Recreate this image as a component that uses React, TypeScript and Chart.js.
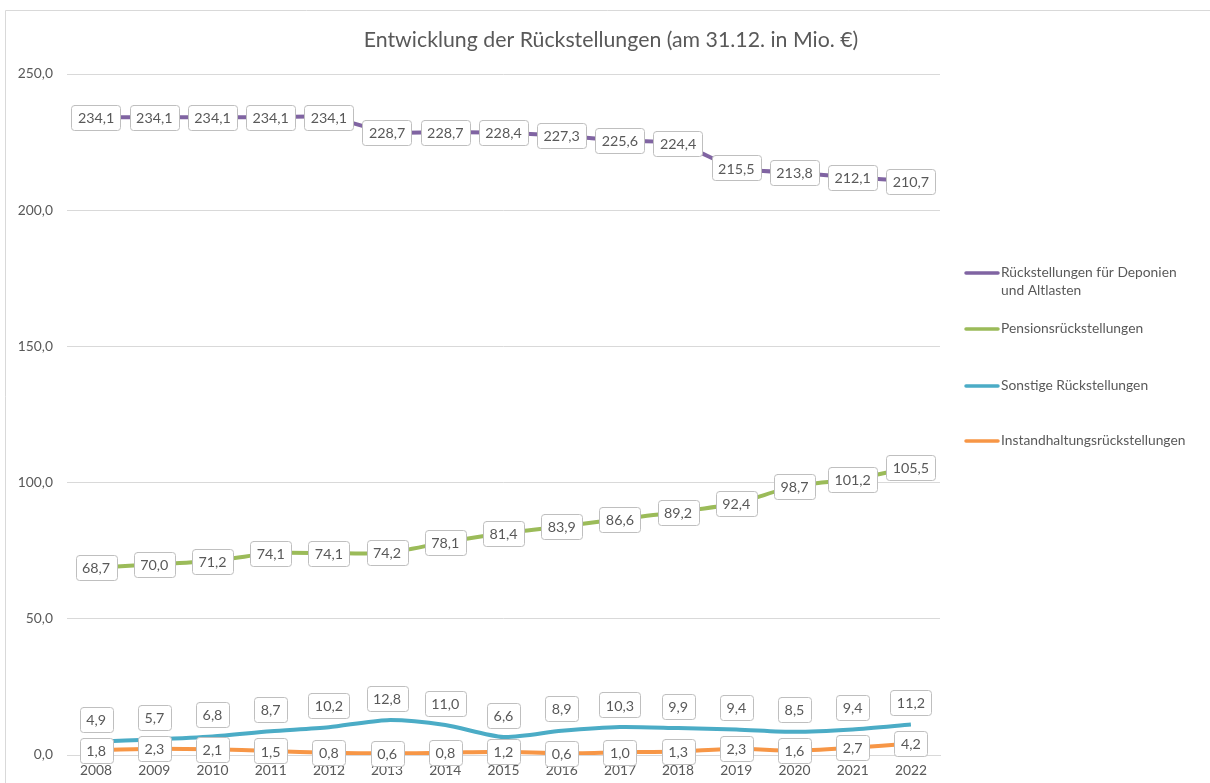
import React, { useEffect, useRef } from "react";
import { Chart, registerables } from "chart.js";

Chart.register(...registerables);

const years = ["2008", "2009", "2010", "2011", "2012", "2013", "2014", "2015", "2016", "2017", "2018", "2019", "2020", "2021", "2022"];
const deponien = [234.1, 234.1, 234.1, 234.1, 234.1, 228.7, 228.7, 228.4, 227.3, 225.6, 224.4, 215.5, 213.8, 212.1, 210.7];
const pensionen = [68.7, 70.0, 71.2, 74.1, 74.1, 74.2, 78.1, 81.4, 83.9, 86.6, 89.2, 92.4, 98.7, 101.2, 105.5];
const sonstige = [4.9, 5.7, 6.8, 8.7, 10.2, 12.8, 11.0, 6.6, 8.9, 10.3, 9.9, 9.4, 8.5, 9.4, 11.2];
const instand = [1.8, 2.3, 2.1, 1.5, 0.8, 0.6, 0.8, 1.2, 0.6, 1.0, 1.3, 2.3, 1.6, 2.7, 4.2];
const seriesNames = [["Rückstellungen für Deponien", "und Altlasten"], ["Pensionsrückstellungen"], ["Sonstige Rückstellungen"], ["Instandhaltungsrückstellungen"]];
const yTicks = [0, 50, 100, 150, 200, 250];
const title = "Entwicklung der Rückstellungen (am 31.12. in Mio. €)";

const FONT = "Lato, 'Open Sans', sans-serif";
const TEXT = "#595959";
const fmt = (v: number) => v.toFixed(1).replace(".", ",");

const decorPlugin = {
  id: "decor",
  beforeDraw(chart: any) {
    const ctx = chart.ctx;
    ctx.save();
    ctx.fillStyle = "#ffffff";
    ctx.fillRect(0, 0, chart.width, chart.height);
    ctx.strokeStyle = "#d9d9d9";
    ctx.lineWidth = 1;
    ctx.beginPath();
    ctx.moveTo(5.5, chart.height);
    ctx.lineTo(5.5, 10.5);
    ctx.lineTo(chart.width, 10.5);
    ctx.stroke();
    ctx.fillStyle = TEXT;
    ctx.font = `21.3px ${FONT}`;
    ctx.textAlign = "center";
    ctx.textBaseline = "middle";
    ctx.fillText(title, 611, 40);
    ctx.restore();
  },
  afterDraw(chart: any) {
    const ctx = chart.ctx;
    ctx.save();
    // legend
    const legendY = [273, 329, 386, 441];
    ctx.font = `13.8px ${FONT}`;
    ctx.textBaseline = "middle";
    ctx.textAlign = "left";
    chart.data.datasets.forEach((ds: any, i: number) => {
      const y = legendY[i];
      ctx.strokeStyle = ds.borderColor;
      ctx.lineWidth = 3.5;
      ctx.lineCap = "round";
      ctx.beginPath();
      ctx.moveTo(966, y);
      ctx.lineTo(998, y);
      ctx.stroke();
      ctx.fillStyle = TEXT;
      seriesNames[i].forEach((line, j) => ctx.fillText(line, 1001, y + j * 18));
    });
    // data labels
    ctx.font = `14.3px ${FONT}`;
    ctx.textAlign = "center";
    ctx.textBaseline = "middle";
    chart.data.datasets.forEach((ds: any, i: number) => {
      const meta = chart.getDatasetMeta(i);
      meta.data.forEach((pt: any, k: number) => {
        const txt = fmt(ds.data[k]);
        const w = ctx.measureText(txt).width + 13;
        const h = 25;
        const cx = pt.x;
        const cy = i === 2 ? pt.y - 22 : pt.y;
        const x0 = Math.round(cx - w / 2) + 0.5;
        const y0 = Math.round(cy - h / 2) + 0.5;
        ctx.beginPath();
        ctx.roundRect(x0, y0, Math.round(w), h, 3);
        ctx.fillStyle = "#ffffff";
        ctx.fill();
        ctx.strokeStyle = "#bfbfbf";
        ctx.lineWidth = 1;
        ctx.stroke();
        ctx.fillStyle = TEXT;
        ctx.fillText(txt, cx, cy + 1);
      });
    });
    ctx.restore();
  },
};

export default function App() {
  const ref = useRef<HTMLCanvasElement | null>(null);
  useEffect(() => {
    if (!ref.current) return;
    const mk = (label: string, data: number[], color: string) => ({
      label,
      data,
      borderColor: color,
      backgroundColor: color,
      borderWidth: 4,
      pointRadius: 0,
      tension: 0.25,
      fill: false,
    });
    const chart = new Chart(ref.current, {
      type: "line",
      data: {
        labels: years,
        datasets: [
          mk(seriesNames[0].join(" "), deponien, "#8064a2"),
          mk(seriesNames[1][0], pensionen, "#9bbb59"),
          mk(seriesNames[2][0], sonstige, "#4bacc6"),
          mk(seriesNames[3][0], instand, "#f79646"),
        ],
      },
      options: {
        responsive: false,
        animation: false,
        layout: { padding: { left: 7, right: 270, top: 74, bottom: 0 } },
        plugins: { legend: { display: false }, title: { display: false }, tooltip: { enabled: false } },
        scales: {
          x: {
            offset: true,
            grid: { display: false, drawTicks: false },
            border: { display: true, color: "#d9d9d9", width: 1 },
            ticks: { color: TEXT, font: { family: FONT, size: 13.8 }, padding: 7, maxRotation: 0, autoSkip: false },
            afterFit: (s: any) => { s.height = 28; },
          },
          y: {
            min: 0,
            max: 250,
            afterBuildTicks: (s: any) => { s.ticks = yTicks.map((v) => ({ value: v })); },
            grid: { color: "#d9d9d9", drawTicks: false },
            border: { display: false },
            ticks: { color: TEXT, font: { family: FONT, size: 13.8 }, padding: 14, callback: (v: any) => fmt(Number(v)) },
            afterFit: (s: any) => { s.width = 60; },
          },
        },
      },
      plugins: [decorPlugin],
    });
    return () => chart.destroy();
  }, []);
  return (
    <div style={{ position: "absolute", left: 0, top: 0, width: 1210, height: 783 }}>
      <canvas ref={ref} width={1210} height={783} style={{ display: "block" }} />
    </div>
  );
}
